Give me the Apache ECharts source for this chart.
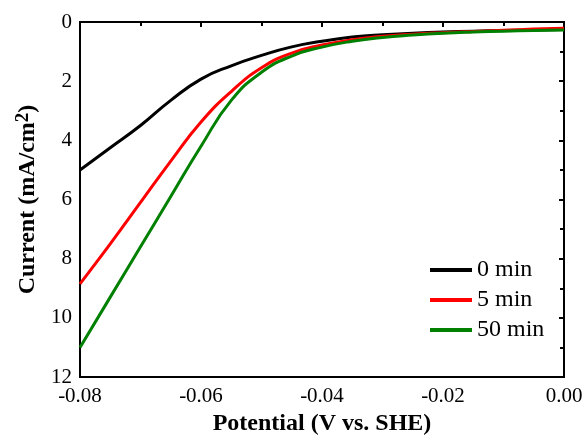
<!DOCTYPE html>
<html>
<head>
<meta charset="utf-8">
<script src="https://cdn.jsdelivr.net/npm/echarts@6/dist/echarts.min.js"></script>
<style>
  html, body { margin: 0; padding: 0; background: #fff; }
  #chart { width: 586px; height: 437px; }
</style>
</head>
<body>
<div id="chart"></div>
<script>
// potential (V vs. SHE)
const potential = [-0.08, -0.075, -0.07, -0.065, -0.06, -0.055, -0.05, -0.045, -0.04,
  -0.035, -0.03, -0.025, -0.02, -0.015, -0.01, -0.005, 0];
// current (mA/cm2), y axis is inverted
const min0 = [5.0, 4.25, 3.5, 2.65, 1.93, 1.48, 1.13, 0.84, 0.65, 0.51, 0.43, 0.38, 0.34, 0.31, 0.29, 0.27, 0.25];
const min5 = [8.85, 7.5, 6.1, 4.7, 3.38, 2.35, 1.55, 1.05, 0.78, 0.6, 0.48, 0.41, 0.36, 0.32, 0.28, 0.24, 0.21];
const min50 = [11.0, 9.3, 7.6, 5.9, 4.2, 2.65, 1.7, 1.15, 0.85, 0.65, 0.52, 0.44, 0.38, 0.34, 0.31, 0.29, 0.27];
const names = ['0 min', '5 min', '50 min'];
const colors = ['#000000', '#ff0000', '#008000'];

const font = 'Liberation Serif';
const pairs = arr => potential.map((x, i) => [x, arr[i]]);

const chart = echarts.init(document.getElementById('chart'));
chart.setOption({
  animation: false,
  grid: {
    left: 80, right: 22, top: 22, bottom: 60,
    outerBoundsMode: 'none',
    show: true, borderColor: '#000', borderWidth: 2
  },
  legend: {
    orient: 'vertical',
    left: 425,
    top: 253,
    itemWidth: 42,
    itemHeight: 4,
    itemGap: 6,
    icon: 'rect',
    textStyle: { fontFamily: font, fontSize: 24, color: '#000' },
    data: names
  },
  xAxis: {
    type: 'value',
    min: -0.08, max: 0, interval: 0.02,
    name: 'Potential (V vs. SHE)',
    nameLocation: 'middle',
    nameGap: 33,
    nameTextStyle: { fontFamily: font, fontSize: 24, fontWeight: 'bold', color: '#000' },
    axisLine: { lineStyle: { color: '#000', width: 2 } },
    axisTick: { inside: false, length: 5, lineStyle: { width: 2 } },
    minorTick: { show: true, splitNumber: 2, length: 4, lineStyle: { color: '#000', width: 2 } },
    axisLabel: { fontFamily: font, fontSize: 21, color: '#000', margin: 9,
      formatter: v => v.toFixed(2) },
    splitLine: { show: false }
  },
  yAxis: {
    type: 'value',
    inverse: true,
    min: 0, max: 12, interval: 2,
    name: '{b|Current (mA/cm}{s|2}{b|)}',
    nameLocation: 'middle',
    nameGap: 34,
    nameTextStyle: {
      rich: {
        b: { fontFamily: font, fontSize: 24, fontWeight: 'bold', color: '#000' },
        s: { fontFamily: font, fontSize: 19, fontWeight: 'bold', color: '#000', padding: [0, 0, 11, 0] }
      }
    },
    axisLine: { lineStyle: { color: '#000', width: 2 } },
    axisTick: { inside: false, length: 5, lineStyle: { width: 2 } },
    minorTick: { show: true, splitNumber: 2, length: 4, lineStyle: { color: '#000', width: 2 } },
    axisLabel: { fontFamily: font, fontSize: 21, color: '#000', margin: 8 },
    splitLine: { show: false }
  },
  series: [min0, min5, min50].map((arr, i) => ({
    name: names[i],
    type: 'line',
    smooth: true,
    showSymbol: false,
    color: colors[i],
    lineStyle: { width: 3, color: colors[i] },
    data: pairs(arr)
  }))
});
</script>
</body>
</html>
